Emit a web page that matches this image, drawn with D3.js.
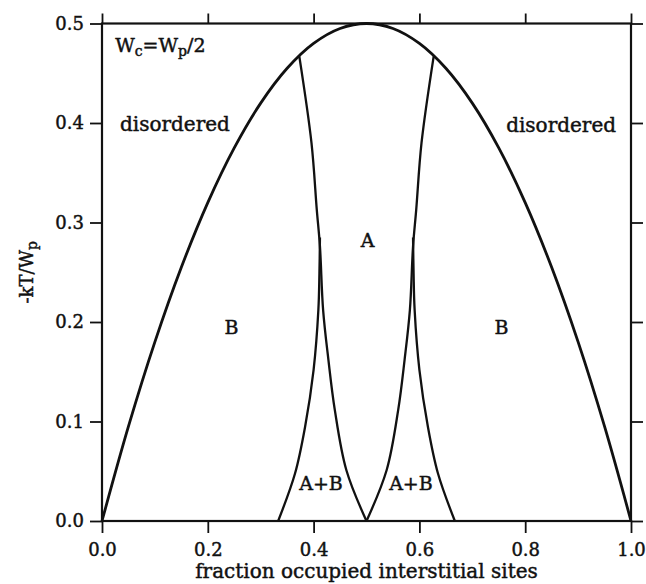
<!DOCTYPE html>
<html>
<head>
<meta charset="utf-8">
<script src="https://cdn.jsdelivr.net/npm/d3@7"></script>
<style>
  html, body { margin: 0; padding: 0; background: #fff; }
  svg { display: block; }
  text { font-family: "DejaVu Serif", "Liberation Serif", serif; fill: #111; stroke: #111; stroke-width: 0.45px; }
</style>
</head>
<body>
<svg id="chart" width="646" height="584"></svg>
<script>
// Outer order/disorder boundary (dome)
const domeX = [0, 0.05, 0.10, 0.15, 0.20, 0.25, 0.30, 0.35, 0.40, 0.45, 0.50, 0.55, 0.60, 0.65, 0.70, 0.75, 0.80, 0.85, 0.90, 0.95, 1.00];
const domeY = [0, 0.095, 0.180, 0.255, 0.320, 0.375, 0.420, 0.455, 0.480, 0.495, 0.500, 0.495, 0.480, 0.455, 0.420, 0.375, 0.320, 0.255, 0.180, 0.095, 0];

// A / B boundary lines, left branch (dome down to x = 0.5)
const leftABX = [0.373, 0.396, 0.406, 0.412, 0.418, 0.428, 0.440, 0.462, 0.500];
const leftABY = [0.467, 0.380, 0.313, 0.276, 0.212, 0.162, 0.112, 0.051, 0.000];
// left two-phase edge rising from x = 1/3
const leftTwoX = [0.333, 0.365, 0.384, 0.400, 0.409, 0.411, 0.412];
const leftTwoY = [0.000, 0.048, 0.095, 0.152, 0.212, 0.249, 0.285];

// right branch (dome down to x = 0.5)
const rightABX = [0.627, 0.604, 0.594, 0.588, 0.582, 0.572, 0.560, 0.538, 0.500];
const rightABY = [0.467, 0.380, 0.313, 0.276, 0.212, 0.162, 0.112, 0.051, 0.000];
// right two-phase edge rising from x = 2/3
const rightTwoX = [0.667, 0.635, 0.616, 0.600, 0.591, 0.589, 0.588];
const rightTwoY = [0.000, 0.048, 0.095, 0.152, 0.212, 0.249, 0.285];

const xTicks = [0, 0.2, 0.4, 0.6, 0.8, 1.0];
const yTicks = [0, 0.1, 0.2, 0.3, 0.4, 0.5];

// Region labels: [text, x, y, anchor, size]
const regionLabels = [
  ["disordered", 0.034, 0.392, "start", 20],
  ["disordered", 0.764, 0.391, "start", 20],
  ["A", 0.502, 0.275, "middle", 19],
  ["B", 0.245, 0.188, "middle", 19],
  ["B", 0.755, 0.188, "middle", 19],
  ["A+B", 0.414, 0.031, "middle", 19],
  ["A+B", 0.584, 0.031, "middle", 19]
];

const svg = d3.select("#chart");
const x = d3.scaleLinear().domain([0, 1]).range([102, 631]);
const y = d3.scaleLinear().domain([0, 0.5]).range([521, 23.5]);

const fs = 18;

// axes with outward ticks
function styleAxis(g) {
  g.select(".domain").remove();
  g.selectAll(".tick line").attr("stroke", "#111").attr("stroke-width", 1.8);
  g.selectAll(".tick text").attr("font-size", fs).attr("fill", "#111")
    .attr("font-family", "DejaVu Serif, serif");
}
svg.append("g").attr("transform", `translate(0,${y(0)})`)
  .call(d3.axisBottom(x).tickValues(xTicks).tickSize(12).tickPadding(10).tickFormat(d3.format(".1f")))
  .call(styleAxis);
svg.append("g").attr("transform", `translate(0,${y(0.5)})`)
  .call(d3.axisTop(x).tickValues(xTicks).tickSize(10).tickFormat(""))
  .call(styleAxis);
svg.append("g").attr("transform", `translate(${x(0)},0)`)
  .call(d3.axisLeft(y).tickValues(yTicks).tickSize(12).tickPadding(6).tickFormat(d3.format(".1f")))
  .call(styleAxis);
svg.append("g").attr("transform", `translate(${x(1)},0)`)
  .call(d3.axisRight(y).tickValues(yTicks).tickSize(12).tickFormat(""))
  .call(styleAxis);

// frame
svg.append("rect")
  .attr("x", x(0)).attr("y", y(0.5))
  .attr("width", x(1) - x(0)).attr("height", y(0) - y(0.5))
  .attr("fill", "none").attr("stroke", "#111").attr("stroke-width", 2.2);

// boundary curves
const line = d3.line().x(d => x(d[0])).y(d => y(d[1])).curve(d3.curveCatmullRom);
const curves = [
  [domeX, domeY, 2.8],
  [leftABX, leftABY, 2.3],
  [leftTwoX, leftTwoY, 2.3],
  [rightABX, rightABY, 2.3],
  [rightTwoX, rightTwoY, 2.3]
];
curves.forEach(([xs, ys, w]) => {
  svg.append("path")
    .datum(xs.map((v, i) => [v, ys[i]]))
    .attr("d", line)
    .attr("fill", "none").attr("stroke", "#111").attr("stroke-width", w)
    .attr("stroke-linejoin", "round");
});

// region labels
regionLabels.forEach(([t, lx, ly, anchor, size]) => {
  svg.append("text").attr("x", x(lx)).attr("y", y(ly))
    .attr("text-anchor", anchor).attr("font-size", size).text(t);
});

// parameter note in the corner
const note = svg.append("text").attr("x", x(0.025)).attr("y", y(0.471)).attr("font-size", fs + 1);
note.append("tspan").text("W");
note.append("tspan").attr("font-size", fs - 4).attr("dy", 4).text("c");
note.append("tspan").attr("dy", -4).text("=W");
note.append("tspan").attr("font-size", fs - 4).attr("dy", 4).text("p");
note.append("tspan").attr("dy", -4).text("/2");

// axis titles
svg.append("text").attr("x", (x(0) + x(1)) / 2).attr("y", 578)
  .attr("text-anchor", "middle").attr("font-size", 20).text("fraction occupied interstitial sites");

const yt = svg.append("text")
  .attr("transform", `translate(33,${(y(0) + y(0.5)) / 2}) rotate(-90)`)
  .attr("text-anchor", "middle").attr("font-size", fs);
yt.append("tspan").text("-kT/W");
yt.append("tspan").attr("font-size", fs - 4).attr("dy", 4).text("p");
</script>
</body>
</html>
